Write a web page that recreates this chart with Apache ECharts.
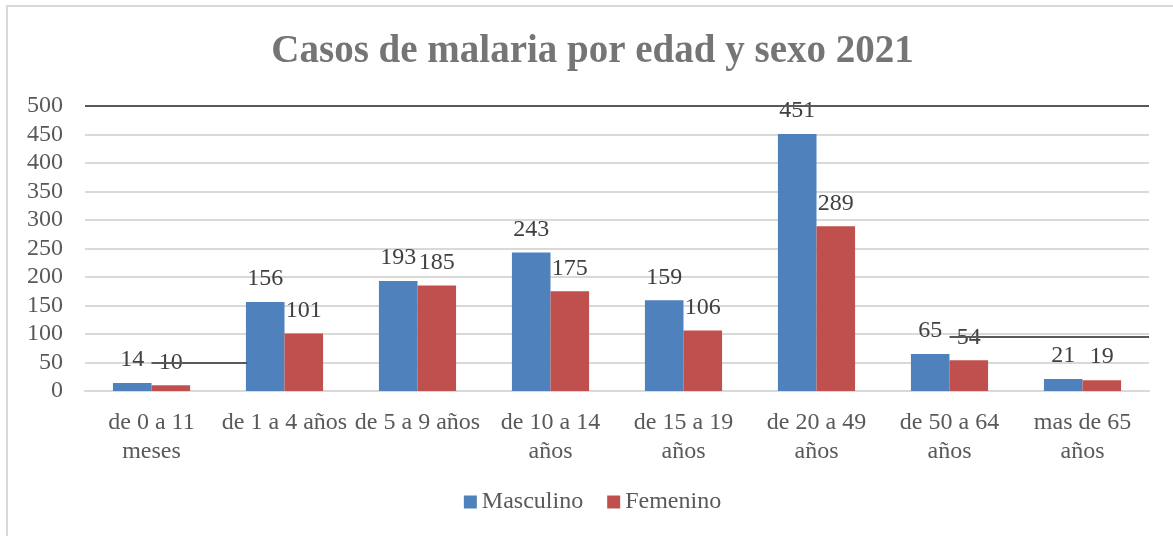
<!DOCTYPE html>
<html>
<head>
<meta charset="utf-8">
<script src="https://cdn.jsdelivr.net/npm/echarts@6/dist/echarts.min.js"></script>
<style>
  html, body { margin: 0; padding: 0; background: #fff; }
  #chart {
    position: absolute; left: 6px; top: 5px;
    width: 1173px; height: 540px;
    border: 2px solid #d9d9d9; box-sizing: border-box;
  }
  #wrap { width: 1173px; height: 536px; position: relative; overflow: hidden; }
</style>
</head>
<body>
<div id="wrap"><div id="chart"></div></div>
<script>
// datos
const categorias = [
  "de 0 a 11\nmeses", "de 1 a 4 años", "de 5 a 9 años", "de 10 a 14\naños",
  "de 15 a 19\naños", "de 20 a 49\naños", "de 50 a 64\naños", "mas de 65\naños"
];
const masculino = [14, 156, 193, 243, 159, 451, 65, 21];
const femenino = [10, 101, 185, 175, 106, 289, 54, 19];
const yTicks = [0, 50, 100, 150, 200, 250, 300, 350, 400, 450, 500];
// trazos oscuros sueltos del original: [xDesde, xHasta, valor] (x en unidades de categoría)
const trazos = [
  [0.5, 1.22, 50],
  [6.5, 8, 95]
];

const serif = "'Liberation Serif', 'DejaVu Serif', serif";
const chart = echarts.init(document.getElementById("chart"));

const option = {
  animation: false,
  color: ["#4f81bd", "#c0504d"],
  title: {
    text: "Casos de malaria por edad y sexo 2021",
    left: "center",
    top: 20,
    textStyle: { fontFamily: serif, fontSize: 39, fontWeight: "bold", color: "#757575" },
  },
  grid: { left: 77, right: 28, top: 99, bottom: 152 },
  legend: {
    bottom: 24,
    left: "center",
    itemWidth: 13,
    itemHeight: 13,
    itemGap: 24,
    icon: "rect",
    textStyle: { fontFamily: serif, fontSize: 24, color: "#595959" },
    data: ["Masculino", "Femenino"],
  },
  xAxis: [
    {
      type: "category",
      data: categorias,
      axisLine: { show: true, lineStyle: { color: "#d9d9d9", width: 2 } },
      axisTick: { show: false },
      axisLabel: {
        interval: 0,
        margin: 17,
        fontFamily: serif,
        fontSize: 24,
        lineHeight: 29,
        color: "#595959",
      },
    },
    { type: "value", min: 0, max: categorias.length, show: false },
  ],
  yAxis: {
    type: "value",
    min: yTicks[0],
    max: yTicks[yTicks.length - 1],
    interval: 50,
    axisLine: { show: false },
    axisTick: { show: false },
    axisLabel: { margin: 22, fontFamily: serif, fontSize: 24, color: "#595959" },
    splitLine: { lineStyle: { color: "#d9d9d9", width: 2 } },
  },
  series: [
    {
      name: "Masculino",
      type: "bar",
      data: masculino,
      barGap: "0%",
      barCategoryGap: "42%",
      label: {
        show: true, position: "top", distance: 11,
        fontFamily: serif, fontSize: 24, color: "#404040",
      },
      markLine: {
        silent: true, symbol: "none",
        label: { show: false },
        lineStyle: { color: "#595959", width: 2, type: "solid" },
        data: [{ yAxis: yTicks[yTicks.length - 1] }],
      },
    },
    {
      name: "Femenino",
      type: "bar",
      data: femenino,
      label: {
        show: true, position: "top", distance: 11,
        fontFamily: serif, fontSize: 24, color: "#404040",
      },
    },
    {
      name: "trazos",
      type: "line",
      xAxisIndex: 1,
      data: [],
      markLine: {
        silent: true, symbol: "none",
        label: { show: false },
        lineStyle: { color: "#595959", width: 2, type: "solid" },
        data: trazos.map(t => [{ coord: [t[0], t[2]] }, { coord: [t[1], t[2]] }]),
      },
    },
  ],
};
chart.setOption(option);
</script>
</body>
</html>
